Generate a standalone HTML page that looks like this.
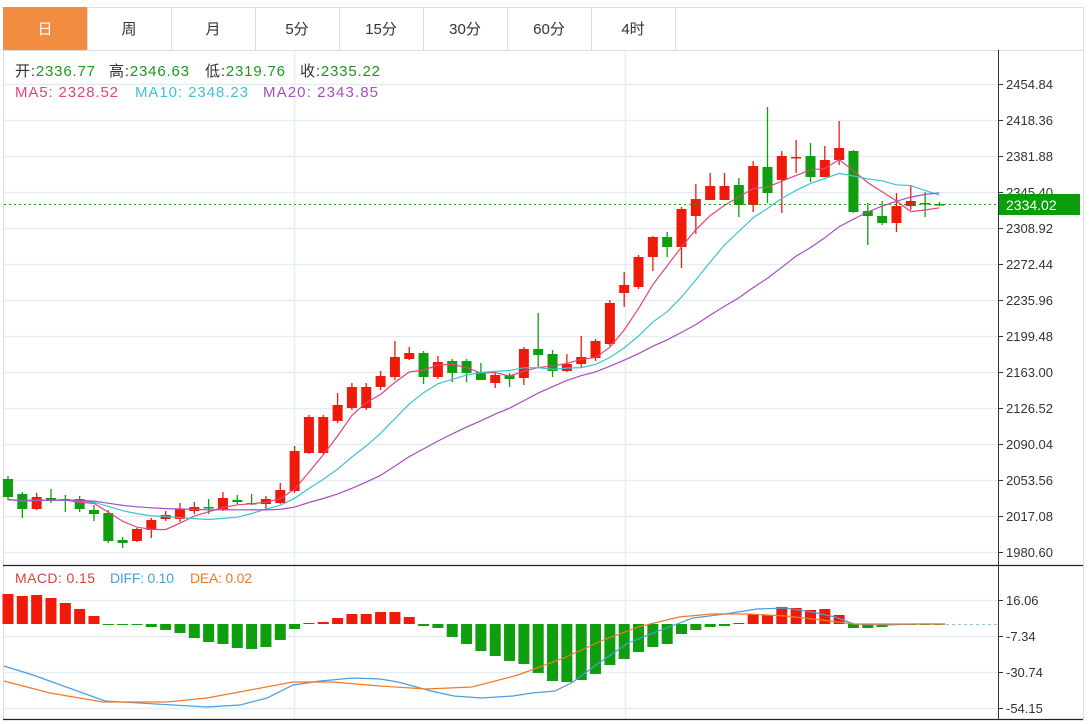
<!DOCTYPE html>
<html><head><meta charset="utf-8">
<style>
body{margin:0;background:#fff;width:1092px;height:724px;overflow:hidden;font-family:"Liberation Sans","Noto Sans CJK SC",sans-serif;}
svg{position:absolute;left:0;top:0}
</style></head><body>
<svg id="s" width="1092" height="724" xmlns="http://www.w3.org/2000/svg" font-family="Liberation Sans, Noto Sans CJK SC, sans-serif"></svg>
<script>
var C=[[479,497,476,500],[494,509,492,518],[509,497,493,510],[498,498,489,503],[499,499,495,512],[499,509,496,512],[510,514,505,521],[513,541,510,543],[540,543,537,548],[541,529,528,542],[530,520,518,538],[519,515,511,521],[519,509,503,522],[511,507,502,514],[507,508,499,514],[510,498,492,511],[500,502,495,504],[503,504,494,505],[504,499,496,509],[503,490,483,504],[491,451,446,493],[453,417,415,454],[453,417,415,454],[421,405,393,423],[408,387,383,410],[408,387,383,410],[387,376,371,390],[377,357,341,380],[359,353,347,360],[353,377,351,384],[377,362,356,379],[361,373,359,382],[361,373,359,382],[372,380,363,380],[383,375,373,388],[375,379,373,387],[378,349,347,385],[349,355,313,368],[354,371,350,377],[371,364,354,372],[364,357,336,367],[358,341,339,361],[344,303,300,346],[293,285,272,307],[287,257,255,289],[257,237,236,271],[237,247,232,257],[247,209,207,268],[216,199,184,234],[200,186,173,200],[200,186,173,200],[185,205,178,217],[205,166,161,212],[167,193,107,203],[180,156,151,213],[157,157,140,173],[156,177,143,182],[177,160,146,177],[160,148,121,165],[151,212,150,213],[211,216,203,245],[216,223,201,225],[223,206,193,232],[206,201,186,210],[203,204,192,217],[204,205,202,206]];
var H=[594,596,595,598,603,609,616,624,625,625,627,630,633,638,642,644,648,649,647,640,629,623,622,618,614,614,612,612,617,626,628,637,644,651,656,661,664,673,681,682,680,674,665,659,652,647,644,634,630,627,626,623,614,615,607,608,610,609,615,628,628,627,625,625,624,624];
var RED="#f01a0a",GRN="#0e9e0e";
var s='';
function X(i){return 8+i*14.33;}
var tabs=["日","周","月","5分","15分","30分","60分","4时"];
s+='<rect x="3.5" y="7.5" width="1080" height="43" fill="#fff" stroke="#ddd"/>';
for(var t=0;t<8;t++){var x0=3+t*84;
 if(t==0)s+='<rect x="3" y="7" width="84" height="43" fill="#f28c40"/>';
 else s+='<line x1="'+(x0+84.5)+'" y1="7" x2="'+(x0+84.5)+'" y2="50" stroke="#ddd"/>';
 s+='<text x="'+(x0+42)+'" y="34" font-size="15" text-anchor="middle" fill="'+(t==0?'#fff':'#333')+'">'+tabs[t]+'</text>';}
s+='<line x1="87.5" y1="7" x2="87.5" y2="50" stroke="#ddd"/>';
s+='<line x1="3.5" y1="50" x2="3.5" y2="720" stroke="#ddd"/><line x1="1083.5" y1="50" x2="1083.5" y2="720" stroke="#ddd"/>';
var mt=[[84,"2454.84"],[120,"2418.36"],[156,"2381.88"],[192,"2345.40"],[228,"2308.92"],[264,"2272.44"],[300,"2235.96"],[336,"2199.48"],[372,"2163.00"],[408,"2126.52"],[444,"2090.04"],[480,"2053.56"],[516,"2017.08"],[552,"1980.60"],[600,"16.06"],[636,"-7.34"],[672,"-30.74"],[708,"-54.15"]];
mt.forEach(function(m){s+='<line x1="4" y1="'+(m[0]+.5)+'" x2="998" y2="'+(m[0]+.5)+'" stroke="#e6edf2" stroke-width="1.5"/>';
 s+='<line x1="998" y1="'+(m[0]+.5)+'" x2="1003" y2="'+(m[0]+.5)+'" stroke="#333"/>';
 s+='<text x="1006" y="'+(m[0]+5)+'" font-size="13" fill="#333">'+m[1]+'</text>';});
[294.5,625.5].forEach(function(x){s+='<line x1="'+x+'" y1="50" x2="'+x+'" y2="720" stroke="#e6edf2" stroke-width="1.5"/>';});
C.forEach(function(c,i){var x=X(i),up=c[1]<c[0]||(c[1]==c[0]&&i==55),col=up?RED:GRN;
 var top=Math.min(c[0],c[1]),h=Math.max(Math.abs(c[0]-c[1]),1.5);
 s+='<line x1="'+x+'" y1="'+c[2]+'" x2="'+x+'" y2="'+c[3]+'" stroke="'+col+'" stroke-width="1.3"/>';
 s+='<rect x="'+(x-5)+'" y="'+top+'" width="10" height="'+h+'" fill="'+col+'"/>';});
var cl=C.map(function(c){return c[1];});
function ma(n,col){var pts=[];for(var i=0;i<cl.length;i++){var sm=0;for(var k=i-n+1;k<=i;k++)sm+=(k<0?500:cl[k]);pts.push(X(i).toFixed(1)+','+(sm/n).toFixed(1));}
 s+='<polyline points="'+pts.join(' ')+'" fill="none" stroke="'+col+'" stroke-width="1.2"/>';}
ma(5,"#e0457b");ma(10,"#3fc1d6");ma(20,"#a84dc0");
s+='<line x1="4" y1="204.5" x2="998" y2="204.5" stroke="#1a9e1a" stroke-dasharray="2,3"/>';
s+='<rect x="998" y="194" width="82" height="21" fill="#0a9e0a"/><text x="1006" y="210" font-size="14" fill="#fff">2334.02</text>';
var G="#1a9a1a";
[[15,"开:","2336.77"],[109,"高:","2346.63"],[205,"低:","2319.76"],[300,"收:","2335.22"]].forEach(function(a){
 s+='<text x="'+a[0]+'" y="76" font-size="15" fill="#333" textLength="'+(80)+'">'+a[1]+'<tspan fill="'+G+'">'+a[2]+'</tspan></text>';});
[[15,"MA5: 2328.52","#e0457b",103],[135,"MA10: 2348.23","#3fc1d6",113],[263,"MA20: 2343.85","#a84dc0",115]].forEach(function(a){
 s+='<text x="'+a[0]+'" y="97" font-size="15" fill="'+a[2]+'" textLength="'+a[3]+'">'+a[1]+'</text>';});
s+='<line x1="3" y1="565.5" x2="1083" y2="565.5" stroke="#222" stroke-width="1.3"/>';
s+='<line x1="3" y1="719.5" x2="1083" y2="719.5" stroke="#222" stroke-width="1.3"/>';
s+='<line x1="998.5" y1="50" x2="998.5" y2="720" stroke="#333"/>';
[[15,"MACD: 0.15","#e0403a",80],[110,"DIFF: 0.10","#4a9de0",64],[190,"DEA: 0.02","#f07a2a",62]].forEach(function(a){
 s+='<text x="'+a[0]+'" y="583" font-size="14" fill="'+a[2]+'" textLength="'+a[3]+'">'+a[1]+'</text>';});
H.forEach(function(y,i){var x=X(i),col=y<624?RED:GRN,top=Math.min(y,624),h=Math.max(Math.abs(y-624),1);
 s+='<rect x="'+(x-5.5)+'" y="'+top+'" width="11" height="'+h+'" fill="'+col+'"/>';});
s+='<line x1="940" y1="624.5" x2="998" y2="624.5" stroke="#8ec6e8" stroke-dasharray="3,3"/>';
s+='<polyline fill="none" stroke="#4a9de0" stroke-width="1.2" points="4,666 33,675 105,701 207,707 240,705 267,698 293,685 320,681 353,678 380,679 398,682 431,691 454,696 481,698 513,696 532,693 555,691 573,682 596,665 628,643 661,630 693,618 725,614 757,609 785,608 812,612 835,617 854,624 886,625 914,624 945,624"/>';
s+='<polyline fill="none" stroke="#f07a2a" stroke-width="1.2" points="4,681 50,693 103,702 167,702 207,698 250,690 293,682 333,682 380,686 426,689 472,687 518,675 564,658 601,641 638,627 679,617 711,614 748,614 785,616 822,620 854,624 945,624"/>';
document.getElementById('s').innerHTML=s;
</script>
</body></html>
